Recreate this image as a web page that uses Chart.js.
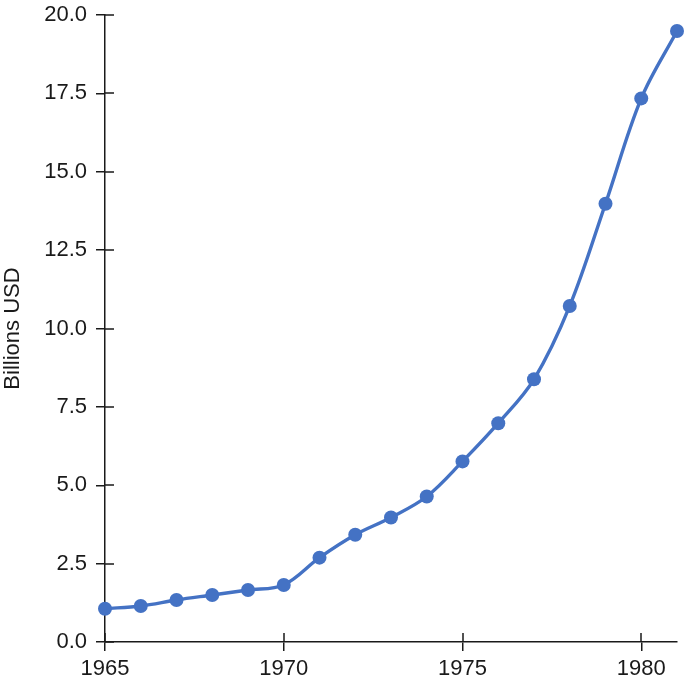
<!DOCTYPE html>
<html lang="en">
<head>
    <meta charset="UTF-8">
    <title>Billions USD 1965-1981</title>
    <script src="https://cdn.jsdelivr.net/npm/chart.js@4/dist/chart.umd.min.js"></script>
    <style>
        html, body { margin: 0; padding: 0; background: #fff; }
        #wrap { width: 685px; height: 685px; }
    </style>
</head>
<body>
<div id="wrap"><canvas id="myChart" width="685" height="685"></canvas></div>
<script>
    // data
    const years = [1965, 1966, 1967, 1968, 1969, 1970, 1971, 1972, 1973, 1974, 1975, 1976, 1977, 1978, 1979, 1980, 1981];
    const billions = [1.06, 1.15, 1.34, 1.50, 1.66, 1.82, 2.69, 3.42, 3.97, 4.64, 5.76, 6.98, 8.38, 10.72, 13.98, 17.34, 19.49];
    const yTicks = [0, 2.5, 5, 7.5, 10, 12.5, 15, 17.5, 20];
    const xTicks = [1965, 1970, 1975, 1980];

    const BLUE = '#4472c4';
    const INK = '#1a1a1a';
    const FONT = '"Liberation Sans", Arial, Helvetica, sans-serif';
    const TICK = 9;

    // ticks that cross the axis: chart.js draws the outer half, this draws the inner half
    const innerTicks = {
        id: 'innerTicks',
        afterDatasetsDraw(chart) {
            const ctx = chart.ctx;
            const x = chart.scales.x, y = chart.scales.y;
            ctx.save();
            ctx.strokeStyle = INK;
            ctx.lineWidth = 1.5;
            ctx.beginPath();
            yTicks.forEach(v => {
                const py = Math.round(y.getPixelForValue(v));
                ctx.moveTo(x.left, py);
                ctx.lineTo(x.left + TICK, py);
            });
            xTicks.forEach(v => {
                const px = Math.round(x.getPixelForValue(v));
                ctx.moveTo(px, y.bottom);
                ctx.lineTo(px, y.bottom - TICK);
            });
            ctx.stroke();
            ctx.restore();
        }
    };

    const points = years.map((yr, i) => ({ x: yr, y: billions[i] }));

    new Chart(document.getElementById('myChart'), {
        type: 'line',
        data: {
            datasets: [{
                data: points,
                borderColor: BLUE,
                backgroundColor: BLUE,
                borderWidth: 3.4,
                pointRadius: 7,
                pointHoverRadius: 7,
                pointBorderWidth: 0,
                tension: 0.35,
                clip: false
            }]
        },
        options: {
            responsive: false,
            animation: false,
            layout: { padding: { top: 15, right: 8, left: 0, bottom: 0 } },
            plugins: {
                legend: { display: false },
                tooltip: { enabled: false }
            },
            scales: {
                x: {
                    type: 'linear',
                    min: 1965,
                    max: 1981,
                    afterFit(scale) { scale.height = 43; },
                    afterBuildTicks(scale) { scale.ticks = xTicks.map(v => ({ value: v })); },
                    border: { display: true, color: INK, width: 1.5 },
                    grid: { display: true, drawOnChartArea: false, drawTicks: true, tickLength: TICK, color: INK, lineWidth: 1.5 },
                    ticks: {
                        padding: 5,
                        color: INK,
                        font: { family: FONT, size: 22 },
                        maxRotation: 0,
                        callback: v => String(v)
                    }
                },
                y: {
                    min: 0,
                    max: 20,
                    afterFit(scale) {
                        scale.width = 105;
                        scale.paddingTop = 0;
                        scale.paddingBottom = 0;
                    },
                    afterBuildTicks(scale) { scale.ticks = yTicks.map(v => ({ value: v })); },
                    border: { display: true, color: INK, width: 1.5 },
                    grid: { display: true, drawOnChartArea: false, drawTicks: true, tickLength: TICK, color: INK, lineWidth: 1.5 },
                    title: {
                        display: true,
                        text: 'Billions USD',
                        color: INK,
                        font: { family: FONT, size: 22 },
                        padding: { top: 0, bottom: 0 }
                    },
                    ticks: {
                        padding: 9,
                        color: INK,
                        font: { family: FONT, size: 22 },
                        callback: v => Number(v).toFixed(1)
                    }
                }
            }
        },
        plugins: [innerTicks]
    });
</script>
</body>
</html>
